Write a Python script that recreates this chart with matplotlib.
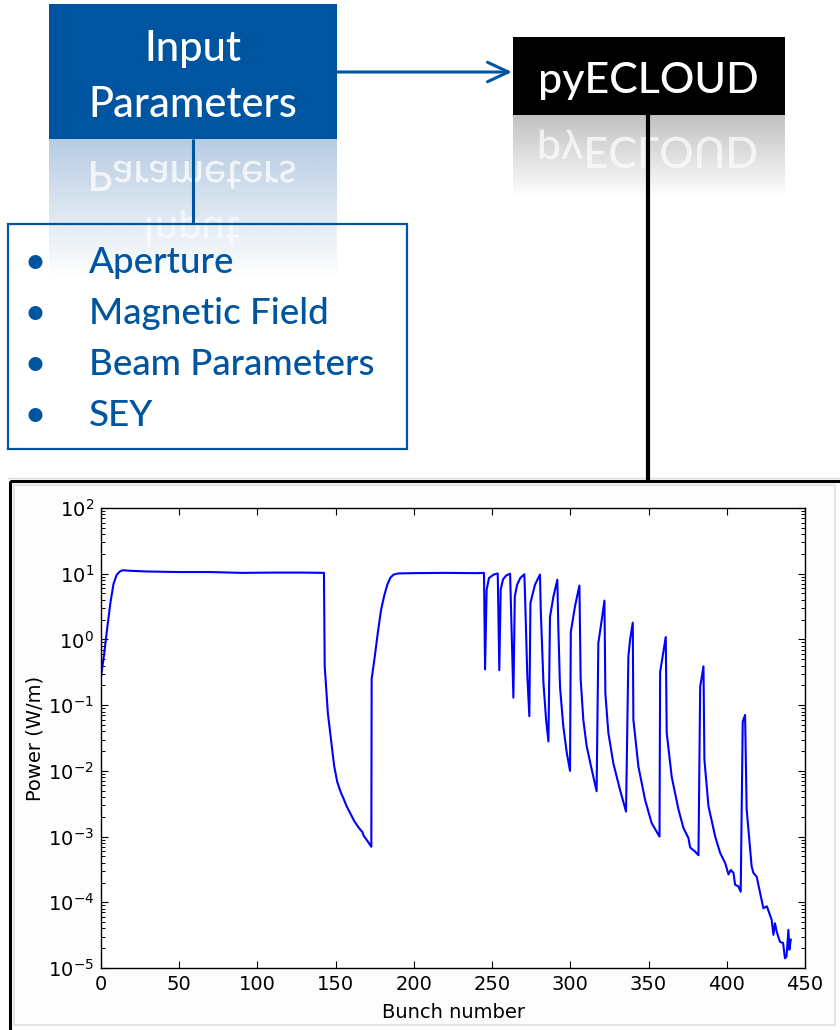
import numpy as np
import matplotlib
matplotlib.use("Agg")
import matplotlib.pyplot as plt
from matplotlib.patches import Rectangle, PathPatch
from matplotlib.textpath import TextPath
from matplotlib.font_manager import FontProperties
from matplotlib.transforms import Affine2D
from matplotlib.ticker import LogLocator, NullFormatter

# bunch-by-bunch heat load
bunch = [0, 2, 4, 6, 8, 10, 12, 14, 18, 30, 50, 70, 90, 110, 130, 142.5,
         143, 144, 145, 147, 149, 151, 153, 155, 157, 160, 162, 164, 166, 167, 168, 170, 172, 172.8,
         173, 175, 177, 179, 181, 183, 185, 187, 190, 200, 220, 240, 244.8,
         245.5, 246.5, 248, 251, 253.6,
         254.6, 255.5, 257, 259, 261.5,
         262.3, 263.6, 264.5, 266, 268, 270.6,
         271.0, 272.5, 273.8, 274.5, 277.4, 280.6,
         281.1, 282.8, 284.5, 286.0, 287.0, 289.2, 291.7,
         292.3, 293.4, 295.5, 297.7, 299.8, 300.3, 303.0, 305.8,
         306.6, 308.3, 310.4, 313.7, 316.8, 317.9, 320.1, 321.8,
         322.4, 324.3, 327.5, 331.8, 335.6, 337.1, 338.2, 339.9,
         340.3, 343.5, 347.8, 352.0, 356.3, 357.0, 357.4, 361.0,
         361.6, 364.8, 369.1, 372.3, 375.5, 376.6, 379.8, 381.9, 383.0, 385.1,
         385.7, 388.3, 392.6, 395.8, 399.0, 401.1, 402.6, 404.3, 405.3, 407.4, 408.9, 410.2, 411.7,
         412.7, 415.9, 417.0, 419.1, 423.4, 425.6, 428.7, 429.8, 430.8, 432.0, 434.0, 436.0,
         437.2, 438.2, 439.4, 440.0, 440.9]

power = [0.27, 0.6, 1.5, 3.6, 7.0, 9.6, 10.8, 11.3, 11.1, 10.8, 10.6, 10.6, 10.3, 10.4, 10.4, 10.3,
         0.39, 0.17, 0.076, 0.030, 0.012, 0.0068, 0.0049, 0.0038, 0.0029, 0.0021, 0.0017, 0.00145,
         0.00125, 0.00118, 0.00102, 0.00088, 0.00075, 0.00070,
         0.25, 0.55, 1.3, 2.8, 4.6, 6.8, 8.7, 9.7, 10.1, 10.2, 10.3, 10.2, 10.3,
         0.35, 5.7, 8.6, 9.7, 10.1,
         0.34, 5.8, 8.2, 9.4, 10.0,
         2.0, 0.13, 4.5, 6.8, 8.6, 9.8,
         5.1, 0.28, 0.068, 3.6, 6.8, 9.7,
         2.8, 0.22, 0.060, 0.028, 2.2, 4.5, 8.1,
         1.6, 0.19, 0.048, 0.019, 0.010, 1.3, 3.2, 6.6,
         0.25, 0.060, 0.024, 0.0104, 0.0049, 0.88, 2.0, 3.9,
         0.15, 0.038, 0.013, 0.0051, 0.0024, 0.55, 1.0, 1.8,
         0.060, 0.0117, 0.0036, 0.0016, 0.00107, 0.00100, 0.32, 1.09,
         0.038, 0.0081, 0.0026, 0.00135, 0.00095, 0.00068, 0.00059, 0.00052, 0.19, 0.39,
         0.0148, 0.0029, 0.0010, 0.00056, 0.000395, 0.000265, 0.00031, 0.00028, 0.000185,
         0.000175, 0.000145, 0.056, 0.071,
         0.0026, 0.00035, 0.00028, 0.000245, 0.000081, 0.000087, 0.000054, 0.000032, 0.000048,
         0.000035, 0.000025, 0.000024, 0.000014, 0.000015, 0.000038, 0.000019, 0.000027]

input_lines = ["Input", "Parameters"]
bullet_items = ["Aperture", "Magnetic Field", "Beam Parameters", "SEY"]
code_name = "pyECLOUD"

BLUE = "#0055a0"
FONT = "Lato"
WEIGHT = "medium"
W, H = 840, 1030

fig = plt.figure(figsize=(8.4, 10.3), dpi=100)
lay = fig.add_axes([0, 0, 1, 1])
lay.axis("off")


def mirror_text(s, xc, base_y, size_pt, color, alpha):
    # text path drawn in y-down pixel coords comes out upside down = reflection
    fp = FontProperties(family=FONT, weight=WEIGHT)
    tp = TextPath((0, 0), s, size=size_pt * 100 / 72., prop=fp)
    ext = tp.get_extents()
    tr = Affine2D().translate(xc - (ext.x0 + ext.x1) / 2., base_y)
    lay.add_patch(PathPatch(tr.transform_path(tp), facecolor=color, edgecolor="none",
                            alpha=alpha, zorder=3))


def fade(x0, x1, y0, y1, rgb, a0):
    img = np.zeros((100, 2, 4))
    img[..., :3] = rgb
    img[..., 3] = np.linspace(a0, 0, 100)[:, None]
    lay.imshow(img, extent=(x0, x1, y1, y0), aspect="auto", zorder=2, interpolation="bilinear")


# input parameters box + reflection
lay.add_patch(Rectangle((49, 4), 288, 135, facecolor=BLUE, edgecolor="none", zorder=3))
for txt, yb in zip(input_lines, [61, 117]):
    lay.text(193, yb, txt, ha="center", va="baseline", color="white", fontsize=30,
             family=FONT, weight=WEIGHT, zorder=4)
fade(49, 337, 139, 278, (0.72, 0.80, 0.89), 1.0)
mirror_text(input_lines[1], 193, 161, 30, "white", 0.75)
mirror_text(input_lines[0], 193, 217, 30, "white", 0.6)

# pyECLOUD box + reflection
lay.add_patch(Rectangle((513, 37), 272, 78, facecolor="black", edgecolor="none", zorder=3))
lay.text(648, 93, code_name, ha="center", va="baseline", color="white", fontsize=31,
         family=FONT, weight=WEIGHT, zorder=4)
fade(513, 785, 115, 198, (0.76, 0.76, 0.76), 1.0)
mirror_text(code_name, 648, 137, 31, "white", 0.7)

# connectors
lay.plot([193, 193], [139, 224], color=BLUE, lw=2.2, zorder=5, solid_capstyle="butt")
lay.plot([648, 648], [115, 481], color="black", lw=3, zorder=5, solid_capstyle="butt")
lay.annotate("", xy=(512, 72), xytext=(337, 72),
             arrowprops=dict(arrowstyle="->,head_length=1.5,head_width=0.7", color=BLUE, lw=2.2,
                             shrinkA=0, shrinkB=0))

# bullet list box
lay.add_patch(Rectangle((8, 224), 399, 225, facecolor="none", edgecolor=BLUE, lw=1.6, zorder=4))
for i, item in enumerate(bullet_items):
    yb = 273 + i * 51
    lay.text(35, yb, "\u2022", ha="center", va="baseline", color=BLUE, fontsize=26,
             family=FONT, weight=WEIGHT, zorder=4)
    lay.text(89, yb, item, ha="left", va="baseline", color=BLUE, fontsize=26.5,
             family=FONT, weight=WEIGHT, zorder=4)

# frame around the plot
lay.plot([8, 840], [478, 478], color="#dddddd", lw=1, zorder=1)
lay.add_patch(Rectangle((14, 485), 821, 540, facecolor="#fdfdfd", edgecolor="#e4e4e4", lw=1.5, zorder=1))
lay.add_patch(Rectangle((10, 481), 900, 700, facecolor="none", edgecolor="black", lw=2.2, zorder=5))

lay.set_xlim(0, W)
lay.set_ylim(H, 0)

# the pyECLOUD result
ax = fig.add_axes([101 / 840., 62 / 1030., 704 / 840., 460 / 1030.])
ax.semilogy(bunch, power, color="#0000ff", lw=1.5)
ax.set_xlim(0, 450)
ax.set_ylim(1e-5, 1e2)
ax.set_xticks(np.arange(0, 451, 50))
ax.yaxis.set_major_locator(LogLocator(base=10, numticks=12))
ax.yaxis.set_minor_locator(LogLocator(base=10, subs=np.arange(2, 10), numticks=12))
ax.yaxis.set_minor_formatter(NullFormatter())
ax.tick_params(which="both", direction="in", top=True, right=True, labelsize=14, pad=5)
ax.tick_params(which="major", length=5, width=0.8)
ax.tick_params(which="minor", length=2.8, width=0.7)
for s in ax.spines.values():
    s.set_linewidth(1.0)
ax.set_xlabel("Bunch number", fontsize=14)
ax.set_ylabel("Power (W/m)", fontsize=14)
ax.xaxis.set_label_coords(0.5, -0.075)
ax.yaxis.set_label_coords(-0.08, 0.5)

fig.savefig("out.png", dpi=100)
